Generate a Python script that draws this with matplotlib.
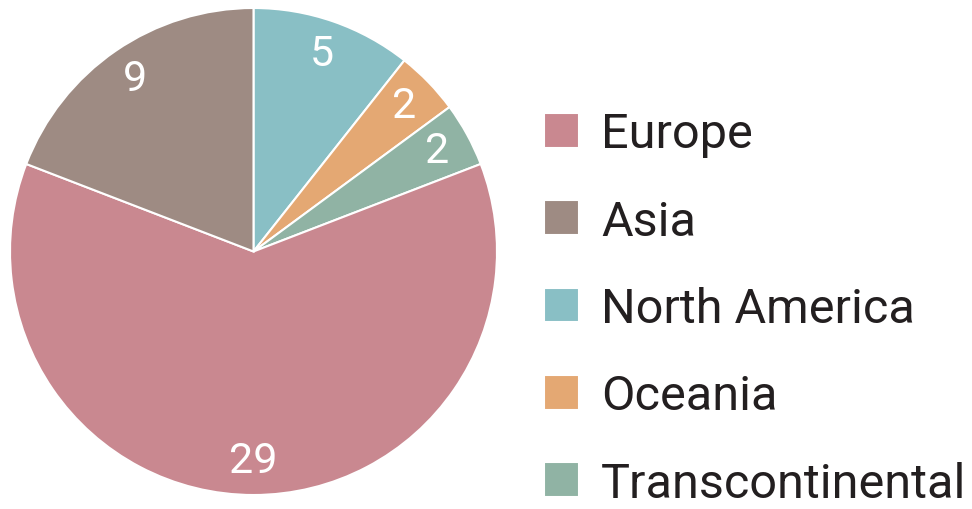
import matplotlib.pyplot as plt

# data, clockwise from 12 o'clock
labels = ["North America", "Oceania", "Transcontinental", "Europe", "Asia"]
values = [5, 2, 2, 29, 9]
colors = ["#89BFC5", "#E4A873", "#90B3A4", "#C98890", "#9E8B83"]
legend_order = ["Europe", "Asia", "North America", "Oceania", "Transcontinental"]

plt.rcParams['font.family'] = ['Roboto', 'DejaVu Sans']

fig = plt.figure(figsize=(9.72, 5.10), dpi=100)
ax = fig.add_axes([10 / 972, 14 / 510, 487 / 972, 487 / 510])

wedges, texts = ax.pie(values, colors=colors, startangle=90, counterclock=False,
                       labels=[str(v) for v in values], labeldistance=0.86,
                       wedgeprops=dict(edgecolor="white", linewidth=1.5),
                       textprops=dict(color="white", fontsize=31))
for t in texts:
    t.set_ha("center")
    t.set_va("center")
ax.set_xlim(-1, 1)
ax.set_ylim(-1, 1)
ax.set_aspect("equal")
ax.axis("off")

handles = [wedges[labels.index(n)] for n in legend_order]
fig.legend(handles, legend_order, loc="center left", bbox_to_anchor=(544 / 972, 0.392),
           frameon=False, fontsize=35, labelcolor="#231F20",
           handlelength=0.72, handleheight=0.72, handletextpad=0.45,
           labelspacing=0.85, borderpad=0, borderaxespad=0)

fig.savefig("out.png", dpi=100)
